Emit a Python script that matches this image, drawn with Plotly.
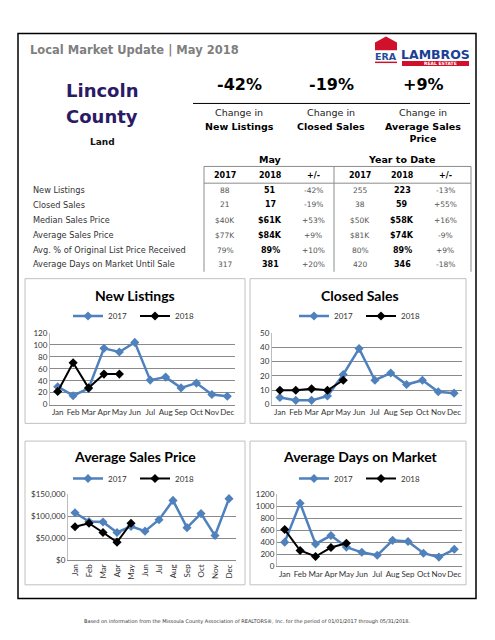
import plotly.graph_objects as go

W, H = 495, 640


def X(p):
    return p / W


def Y(p):
    return 1 - p / H


# ---------------- data ----------------
months = ['Jan', 'Feb', 'Mar', 'Apr', 'May', 'Jun', 'Jul', 'Aug', 'Sep', 'Oct', 'Nov', 'Dec']
months_2018 = months[:5]

new_listings_2017 = [30, 15, 27, 94, 88, 104, 41, 46, 28, 36, 17, 14]
new_listings_2018 = [22, 70, 28, 51, 51]

closed_sales_2017 = [5, 3, 3, 6, 21, 39, 17, 22, 14, 17, 9, 8]
closed_sales_2018 = [10, 10, 11, 10, 17]

avg_price_2017 = [108000, 88000, 87000, 63000, 77000, 66000, 92000, 136000, 74000, 106000, 56000, 140000]
avg_price_2018 = [76000, 84000, 63000, 41000, 84000]

days_market_2017 = [400, 1050, 370, 510, 317, 230, 180, 430, 410, 215, 150, 280]
days_market_2018 = [610, 260, 160, 310, 381]

headline_pct = ['-42%', '-19%', '+9%']
headline_top = ['Change in', 'Change in', 'Change in']
headline_bold = ['New Listings', 'Closed Sales', 'Average Sales<br>Price']

row_labels = ['New Listings', 'Closed Sales', 'Median Sales Price', 'Average Sales Price',
              'Avg. % of Original List Price Received', 'Average Days on Market Until Sale']
col_headers = ['2017', '2018', '+/-', '2017', '2018', '+/-']
may_2017 = ['88', '21', '$40K', '$77K', '79%', '317']
may_2018 = ['51', '17', '$61K', '$84K', '89%', '381']
may_chg = ['-42%', '-19%', '+53%', '+9%', '+10%', '+20%']
ytd_2017 = ['255', '38', '$50K', '$81K', '80%', '420']
ytd_2018 = ['223', '59', '$58K', '$74K', '89%', '346']
ytd_chg = ['-13%', '+55%', '+16%', '-9%', '+9%', '-18%']

# ---------------- styles ----------------
BLUE = '#4f81bd'
BLACK = '#000000'
VER = 'DejaVu Sans'
CAL = 'Lato'
GRID = '#8a8a8a'

fig = go.Figure()

charts = [
    dict(title='New Listings', d17=new_listings_2017, d18=new_listings_2018,
         xd=(50, 235), yd=(333, 406), rng=(0, 120), dtick=20, fmt='', box=(25, 278, 245, 425),
         tcx=135, ty=295, ly=316, lcx=135, angle=0),
    dict(title='Closed Sales', d17=closed_sales_2017, d18=closed_sales_2018,
         xd=(272, 462), yd=(333, 406), rng=(0, 50), dtick=10, fmt='', box=(250, 278, 466, 425),
         tcx=360, ty=295, ly=316, lcx=361, angle=0),
    dict(title='Average Sales Price', d17=avg_price_2017, d18=avg_price_2018,
         xd=(68, 236), yd=(497, 564), rng=(0, 150000), dtick=50000, fmt='$,.0f', box=(25, 443, 245, 589),
         tcx=135, ty=459, ly=481, lcx=135, angle=-90),
    dict(title='Average Days on Market', d17=days_market_2017, d18=days_market_2018,
         xd=(277, 462), yd=(497, 570), rng=(0, 1200), dtick=200, fmt='', box=(250, 443, 466, 589),
         tcx=360, ty=459, ly=481, lcx=361, angle=0),
]

shapes = []
annotations = []

for i, c in enumerate(charts):
    n = '' if i == 0 else str(i + 1)
    lg = 'legend' if i == 0 else 'legend' + str(i + 1)
    fig.add_trace(go.Scatter(x=months, y=c['d17'], name='2017', mode='lines+markers',
                             line=dict(color=BLUE, width=2.5),
                             marker=dict(symbol='diamond', size=7, color=BLUE),
                             xaxis='x' + n, yaxis='y' + n, legend=lg, cliponaxis=False))
    fig.add_trace(go.Scatter(x=months_2018, y=c['d18'], name='2018', mode='lines+markers',
                             line=dict(color=BLACK, width=2),
                             marker=dict(symbol='diamond', size=7, color=BLACK),
                             xaxis='x' + n, yaxis='y' + n, legend=lg, cliponaxis=False))
    fig.update_layout(**{
        'xaxis' + n: dict(domain=[X(c['xd'][0]), X(c['xd'][1])], anchor='y' + n,
                          type='category', categoryorder='array', categoryarray=months,
                          range=[-0.5, 11.5], showgrid=False, showline=True, linecolor='#8a8a8a',
                          linewidth=1, ticks='', tickangle=c['angle'],
                          tickfont=dict(family=CAL, size=8, color='#333333'), fixedrange=True),
        'yaxis' + n: dict(domain=[Y(c['yd'][1]), Y(c['yd'][0])], anchor='x' + n,
                          range=list(c['rng']), dtick=c['dtick'], tickformat=c['fmt'],
                          showgrid=True, gridcolor=GRID, gridwidth=1, showline=True,
                          linecolor='#bdbdbd', zeroline=False, ticks='',
                          tickfont=dict(family=CAL, size=8, color='#333333'), fixedrange=True),
        lg: dict(orientation='h', x=X(c['lcx']), xanchor='center', y=Y(c['ly']), yanchor='middle',
                 font=dict(family=CAL, size=8, color='#333333'), bgcolor='rgba(0,0,0,0)',
                 itemwidth=30, entrywidth=22, entrywidthmode='pixels', tracegroupgap=0),
    })
    bx = c['box']
    shapes.append(dict(type='rect', xref='paper', yref='paper', x0=X(bx[0]), x1=X(bx[2]),
                       y0=Y(bx[3]), y1=Y(bx[1]), line=dict(color='#c0c0c0', width=1)))
    annotations.append(dict(text='<b>%s</b>' % c['title'], x=X(c['tcx']), y=Y(c['ty']),
                            xref='paper', yref='paper', showarrow=False, xanchor='center',
                            yanchor='middle', font=dict(family=CAL, size=14, color='#000000')))

# outer border
shapes.append(dict(type='rect', xref='paper', yref='paper', x0=X(18), x1=X(476), y0=Y(603), y1=Y(29),
                   line=dict(color='#000000', width=1.5)))

# header
annotations.append(dict(text='<b>Local Market Update | May 2018</b>', x=X(28), y=Y(46), xref='paper',
                        yref='paper', showarrow=False, xanchor='left', yanchor='middle',
                        font=dict(family=VER, size=11.5, color='#7f7f7f')))

# logo
house = 'M %f %f L %f %f L %f %f L %f %f L %f %f Z' % (X(375), Y(46), X(375), Y(38), X(386), Y(32),
                                                       X(397), Y(38), X(397), Y(46))
shapes.append(dict(type='path', xref='paper', yref='paper', path=house, fillcolor='#d0112b', line=dict(width=0)))
shapes.append(dict(type='rect', xref='paper', yref='paper', x0=X(375), x1=X(397), y0=Y(59), y1=Y(57.5),
                   fillcolor='#d0112b', line=dict(width=0)))
shapes.append(dict(type='rect', xref='paper', yref='paper', x0=X(402), x1=X(469), y0=Y(62), y1=Y(57),
                   fillcolor='#d0112b', line=dict(width=0)))
annotations.append(dict(text='<b>ERA</b>', x=X(386), y=Y(52), xref='paper', yref='paper', showarrow=False,
                        xanchor='center', yanchor='middle', font=dict(family=VER, size=9.5, color='#1f4e9a')))
annotations.append(dict(text='<b>LAMBROS</b>', x=X(435), y=Y(50), xref='paper', yref='paper', showarrow=False,
                        xanchor='center', yanchor='middle', font=dict(family=VER, size=12.5, color='#1c3f94')))
annotations.append(dict(text='<b>REAL ESTATE</b>', x=X(440), y=Y(59.5), xref='paper', yref='paper',
                        showarrow=False, xanchor='center', yanchor='middle',
                        font=dict(family=VER, size=4.5, color='#ffffff')))

# county block
for txt, py, sz, col in [('Lincoln', 87, 18, '#2b1a66'), ('County', 113, 18, '#2b1a66'), ('Land', 139, 9, '#111111')]:
    annotations.append(dict(text='<b>%s</b>' % txt, x=X(102), y=Y(py), xref='paper', yref='paper',
                            showarrow=False, xanchor='center', yanchor='middle',
                            font=dict(family=VER, size=sz, color=col)))

# headline stats
head_x = [239, 331, 423]
for hx, pct, top, bold in zip(head_x, headline_pct, headline_top, headline_bold):
    annotations.append(dict(text='<b>%s</b>' % pct, x=X(hx), y=Y(81), xref='paper', yref='paper',
                            showarrow=False, xanchor='center', yanchor='middle',
                            font=dict(family=VER, size=16, color='#000000')))
    annotations.append(dict(text=top, x=X(hx), y=Y(109), xref='paper', yref='paper', showarrow=False,
                            xanchor='center', yanchor='middle', font=dict(family=VER, size=9.5, color='#222222')))
    annotations.append(dict(text='<b>%s</b>' % bold, x=X(hx), y=Y(116), xref='paper', yref='paper',
                            showarrow=False, xanchor='center', yanchor='top',
                            font=dict(family=VER, size=9.5, color='#000000')))
shapes.append(dict(type='line', xref='paper', yref='paper', x0=X(193), x1=X(470), y0=Y(100), y1=Y(100),
                   line=dict(color='#000000', width=1)))

# table
annotations.append(dict(text='<b>May</b>', x=X(270), y=Y(157), xref='paper', yref='paper', showarrow=False,
                        xanchor='center', yanchor='middle', font=dict(family=VER, size=9.5, color='#000000')))
annotations.append(dict(text='<b>Year to Date</b>', x=X(402), y=Y(157), xref='paper', yref='paper',
                        showarrow=False, xanchor='center', yanchor='middle',
                        font=dict(family=VER, size=9.5, color='#000000')))
tl, tm, tr, tt, th, tb = 204, 334, 471, 164, 181, 271
for x0, y0, x1, y1 in [(tl, tt, tr, tt), (tl, th, tr, th), (tl, tt, tl, tb), (tm, tt, tm, tb), (tr, tt, tr, tb)]:
    shapes.append(dict(type='line', xref='paper', yref='paper', x0=X(x0), x1=X(x1), y0=Y(y0), y1=Y(y1),
                       line=dict(color='#8c8c8c', width=1)))
col_x = [225, 270, 313, 360, 402, 445]
for cx, h in zip(col_x, col_headers):
    annotations.append(dict(text='<b>%s</b>' % h, x=X(cx), y=Y(173), xref='paper', yref='paper',
                            showarrow=False, xanchor='center', yanchor='middle',
                            font=dict(family=VER, size=8, color='#000000')))
row_y = [188, 203, 218.5, 234, 249, 263.5]
cols = [may_2017, may_2018, may_chg, ytd_2017, ytd_2018, ytd_chg]
for ri, (lab, ry) in enumerate(zip(row_labels, row_y)):
    annotations.append(dict(text=lab, x=X(31), y=Y(ry), xref='paper', yref='paper', showarrow=False,
                            xanchor='left', yanchor='middle', font=dict(family=VER, size=8.2, color='#333333')))
    for ci, (cx, colv) in enumerate(zip(col_x, cols)):
        bold = ci in (1, 4)
        txt = '<b>%s</b>' % colv[ri] if bold else colv[ri]
        annotations.append(dict(text=txt, x=X(cx), y=Y(ry), xref='paper', yref='paper', showarrow=False,
                                xanchor='center', yanchor='middle',
                                font=dict(family=VER, size=8 if bold else 7.5,
                                          color='#000000' if bold else '#555555')))

# footer
annotations.append(dict(text='Based on information from the Missoula County Association of REALTORS\u00ae, Inc. '
                             'for the period of 01/01/2017 through 05/31/2018.',
                        x=X(247), y=Y(626), xref='paper', yref='paper', showarrow=False,
                        xanchor='center', yanchor='middle', font=dict(family=VER, size=5, color='#333333')))

fig.update_layout(width=W, height=H, margin=dict(l=0, r=0, t=0, b=0), paper_bgcolor='white',
                  plot_bgcolor='white', showlegend=True, shapes=shapes, annotations=annotations)

fig.write_html('out.html', config={'displayModeBar': False},
               post_script="document.body.style.margin='0';")
